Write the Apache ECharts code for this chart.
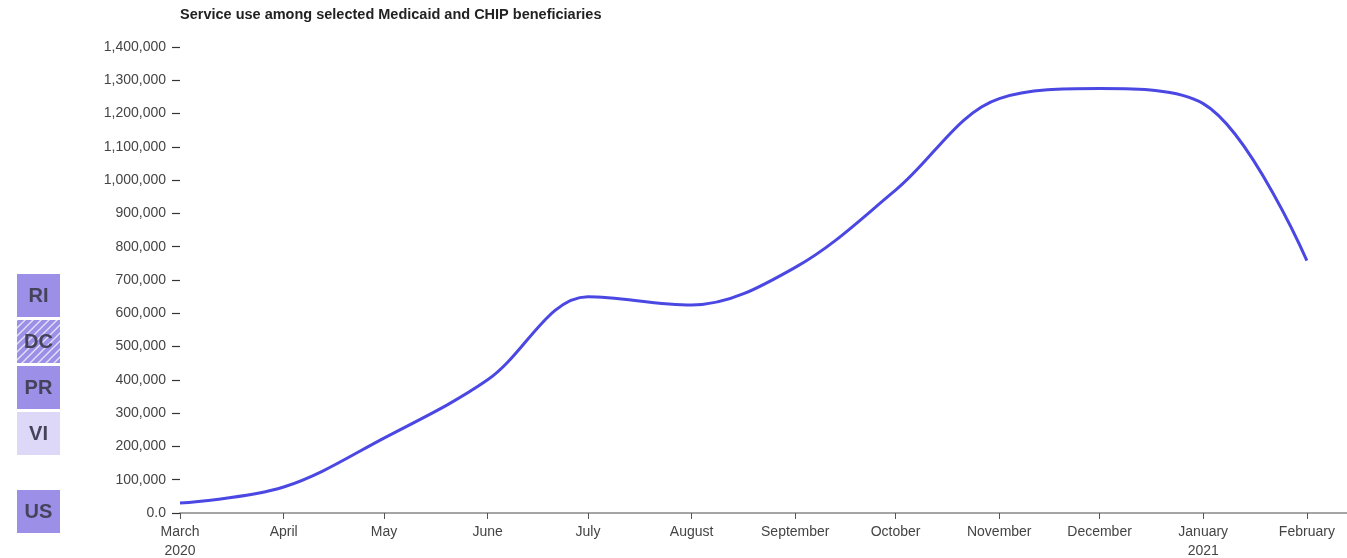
<!DOCTYPE html>
<html><head><meta charset="utf-8">
<script src="https://cdn.jsdelivr.net/npm/echarts@6/dist/echarts.min.js"></script>
<style>html,body{margin:0;padding:0;background:#fff}#c{width:1347px;height:558px}</style>
</head><body><div id="c"></div>
<script>
const titleText = 'Service use among selected Medicaid and CHIP beneficiaries';
const dates = ['2020-03-01','2020-04-01','2020-05-01','2020-06-01','2020-07-01','2020-08-01','2020-09-01','2020-10-01','2020-11-01','2020-12-01','2021-01-01','2021-02-01'];
const monthLabels = ['March\n2020','April','May','June','July','August','September','October','November','December','January\n2021','February'];
const values = [30000, 78000, 225000, 400000, 650000, 625000, 738000, 970000, 1245000, 1275000, 1230000, 758000];
const buttons = ['RI','DC','PR','VI','US'];

const ts = dates.map(d => new Date(d + 'T00:00:00Z').getTime());
const labelMap = {};
ts.forEach((t, i) => labelMap[t] = monthLabels[i]);

const chart = echarts.init(document.getElementById('c'), null, {renderer: 'canvas'});

// hatch pattern
const pc = document.createElement('canvas');
pc.width = 8; pc.height = 8;
const g = pc.getContext('2d');
g.fillStyle = '#9c8fe8'; g.fillRect(0,0,8,8);
g.strokeStyle = 'rgba(255,255,255,0.75)'; g.lineWidth = 1.3;
g.beginPath();
g.moveTo(0,8); g.lineTo(8,0);
g.moveTo(-4,4); g.lineTo(4,-4);
g.moveTo(4,12); g.lineTo(12,4);
g.stroke();

const FF = '"Liberation Sans", Arial, sans-serif';
const btnY = [274, 320, 366, 412, 490];
const btnFill = ['#9c8fe8', {image: pc, repeat: 'repeat'}, '#9c8fe8', '#ddd8f7', '#9c8fe8'];
const graphics = buttons.map((b, i) => ({
  type: 'group', left: 17, top: btnY[i],
  children: [
    {type: 'rect', shape: {x: 0, y: 0, width: 43, height: 43}, style: {fill: btnFill[i]}},
    {type: 'text', x: 21.5, y: 22, style: {text: b, fill: '#45425a', font: 'bold 20px ' + FF, align: 'center', verticalAlign: 'middle'}}
  ]
}));

chart.setOption({
  animation: false,
  title: {text: titleText, left: 175, top: 2, textStyle: {fontSize: 14.5, fontWeight: 'bold', color: '#222', fontFamily: FF}},
  grid: {left: 180, right: 0, top: 47, bottom: 45, containLabel: false, outerBoundsMode: 'none'},
  xAxis: {
    type: 'value',
    min: ts[0],
    max: new Date('2021-02-13T00:00:00Z').getTime(),
    axisLine: {show: true, lineStyle: {color: '#888', width: 1.5}},
    axisTick: {show: true, customValues: ts, length: 6, lineStyle: {color: '#555'}},
    axisLabel: {customValues: ts, formatter: v => labelMap[v] || '', color: '#444', fontSize: 14, lineHeight: 19, margin: 10, fontFamily: FF, showMinLabel: true, showMaxLabel: true},
    splitLine: {show: false}
  },
  yAxis: {
    type: 'value', min: 0, max: 1400000, interval: 100000,
    axisLine: {show: false},
    axisTick: {show: true, length: 8, lineStyle: {color: '#333', width: 1.2}},
    axisLabel: {formatter: v => v === 0 ? '0.0' : v.toLocaleString('en-US'), color: '#444', fontSize: 14, margin: 14, fontFamily: FF},
    splitLine: {show: false}
  },
  series: [{
    type: 'line',
    data: ts.map((t, i) => [t, values[i]]),
    smooth: 0.35,
    symbol: 'none',
    lineStyle: {color: '#4b47e3', width: 3}
  }],
  graphic: graphics
});
</script></body></html>
